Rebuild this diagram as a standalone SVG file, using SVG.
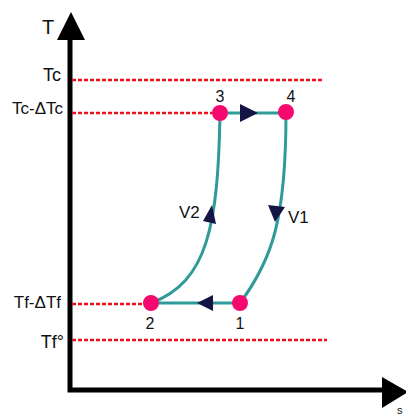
<svg xmlns="http://www.w3.org/2000/svg" width="406" height="416" viewBox="0 0 406 416">
<style>
.lbl{font-family:"Liberation Sans",Arial,sans-serif;fill:#111;}
.ref{stroke:#e8101a;stroke-width:2.5;stroke-dasharray:4 2;fill:none;}
.axis{stroke:#000;stroke-width:5;fill:none;}
.edge{stroke:#2e9b98;stroke-width:3;fill:none;}
.head{fill:#141544;}
.node{fill:#f5096e;}
</style>
<rect width="406" height="416" fill="#fff"/>
<g id="axes">
<polyline class="axis" points="70,38 70,390 385,390"/>
<polygon fill="#000" points="57,40 71,12 85,40"/>
<polygon fill="#000" points="382,377 408,392 382,408"/>
<text class="lbl" x="42" y="34" font-size="20">T</text>
<text class="lbl" x="397" y="414" font-size="11">s</text>
</g>
<g id="levels">
<line class="ref" x1="72" y1="80" x2="322" y2="80"/>
<line class="ref" x1="72" y1="113" x2="212" y2="113"/>
<line class="ref" x1="72" y1="304" x2="143" y2="304"/>
<line class="ref" x1="72" y1="340" x2="327" y2="340"/>
<text class="lbl" x="61" y="81" font-size="18" text-anchor="end">Tc</text>
<text class="lbl" x="63" y="114" font-size="17" text-anchor="end">Tc-ΔTc</text>
<text class="lbl" x="61" y="308" font-size="17" text-anchor="end">Tf-ΔTf</text>
<text class="lbl" x="64" y="348" font-size="18" text-anchor="end">Tf°</text>
</g>
<g id="connectors">
<line class="edge" x1="220" y1="113" x2="286" y2="113"/>
<path class="edge" d="M286,113 C286,220 272,260 240,303"/>
<line class="edge" x1="240" y1="303" x2="151" y2="303"/>
<path class="edge" d="M151,303 C208,282 218,225 220,113"/>
<polygon class="head" points="240,104 258,113 240,122"/>
<polygon class="head" points="213,295 197,303 213,311"/>
<polygon class="head" points="212,205 203,221 216,224"/>
<polygon class="head" points="268,205 285,207 275,222"/>
<text class="lbl" x="179" y="218" font-size="17">V2</text>
<text class="lbl" x="288" y="223" font-size="17">V1</text>
</g>
<g id="n1"><circle class="node" cx="240" cy="303" r="8"/><text class="lbl" x="240" y="329" font-size="16" text-anchor="middle">1</text></g>
<g id="n2"><circle class="node" cx="151" cy="303" r="8"/><text class="lbl" x="150" y="329" font-size="16" text-anchor="middle">2</text></g>
<g id="n3"><circle class="node" cx="220" cy="113" r="8"/><text class="lbl" x="220" y="102" font-size="16" text-anchor="middle">3</text></g>
<g id="n4"><circle class="node" cx="286" cy="112" r="8"/><text class="lbl" x="291" y="102" font-size="16" text-anchor="middle">4</text></g>
</svg>
